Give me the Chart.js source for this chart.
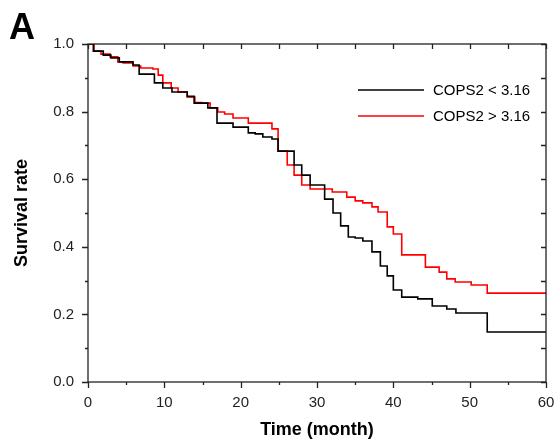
<!DOCTYPE html>
<html>
<head>
<meta charset="utf-8">
<script src="https://cdn.jsdelivr.net/npm/chart.js@4.4.0/dist/chart.umd.min.js"></script>
<style>
html, body { margin: 0; padding: 0; background: #fff; }
#wrap { width: 557px; height: 444px; position: relative; }
</style>
</head>
<body>
<div id="wrap"><canvas id="kmChart"></canvas></div>
<script>
// Kaplan-Meier steps (time in months, survival after the drop)
var timesLow = [0, 0.7, 2.0, 3.0, 4.1, 5.9, 6.7, 8.7, 9.8, 11.0, 13.0, 13.9, 15.7, 16.9, 19.0, 21.0, 21.9, 22.9, 24.1, 24.9, 27.0, 28.0, 29.1, 31.0, 32.1, 33.1, 34.1, 35.0, 36.0, 37.2, 38.3, 39.2, 40.0, 41.1, 43.2, 45.1, 47.0, 48.2, 52.3, 60];
var survivalLow = [1.0, 0.979, 0.967, 0.959, 0.947, 0.938, 0.911, 0.885, 0.870, 0.858, 0.845, 0.825, 0.811, 0.766, 0.754, 0.737, 0.734, 0.725, 0.719, 0.683, 0.642, 0.612, 0.583, 0.541, 0.500, 0.462, 0.429, 0.426, 0.417, 0.385, 0.343, 0.314, 0.272, 0.251, 0.246, 0.225, 0.216, 0.204, 0.148, 0.148];

var timesHigh = [0, 0.8, 1.7, 2.9, 3.9, 4.6, 5.9, 6.9, 8.5, 9.2, 9.8, 10.9, 11.8, 13.0, 14.0, 14.9, 16.0, 17.0, 17.9, 19.0, 21.0, 24.1, 24.9, 26.1, 27.0, 28.0, 29.1, 32.0, 33.9, 35.0, 36.0, 37.2, 38.0, 39.2, 40.0, 41.1, 44.2, 46.0, 47.0, 48.1, 50.2, 52.3, 60];
var survivalHigh = [1.0, 0.979, 0.970, 0.962, 0.947, 0.944, 0.935, 0.929, 0.926, 0.908, 0.885, 0.870, 0.858, 0.843, 0.827, 0.825, 0.811, 0.799, 0.793, 0.781, 0.766, 0.749, 0.683, 0.642, 0.612, 0.583, 0.571, 0.562, 0.547, 0.536, 0.530, 0.518, 0.503, 0.459, 0.438, 0.376, 0.340, 0.325, 0.305, 0.296, 0.287, 0.263, 0.263];

var seriesLabels = ['COPS2 < 3.16', 'COPS2 > 3.16'];
var xTickValues = [0, 5, 10, 15, 20, 25, 30, 35, 40, 45, 50, 55, 60];
var xTickLabels = ['0', '', '10', '', '20', '', '30', '', '40', '', '50', '', '60'];
var yTickValues = [0, 0.1, 0.2, 0.3, 0.4, 0.5, 0.6, 0.7, 0.8, 0.9, 1.0];
var yTickLabels = ['0.0', '', '0.2', '', '0.4', '', '0.6', '', '0.8', '', '1.0'];

var FONT = "Arial, 'Liberation Sans', sans-serif";

function toPoints(xs, ys) {
    return xs.map(function(t, i) { return { x: t, y: ys[i] }; });
}

// frame, tick marks, legend and panel letter
var framePlugin = {
    id: 'frame',
    afterDraw: function(chart) {
        var ctx = chart.ctx;
        var a = chart.chartArea;
        var xs = chart.scales.x;
        var ys = chart.scales.y;
        ctx.save();
        ctx.strokeStyle = '#222';
        ctx.lineWidth = 1.3;
        ctx.strokeRect(a.left, a.top, a.right - a.left, a.bottom - a.top);

        ctx.beginPath();
        xTickValues.forEach(function(v, i) {
            var px = Math.round(xs.getPixelForValue(v)) + 0.5;
            var len = xTickLabels[i] !== '' ? 6 : 3;
            ctx.moveTo(px, a.bottom);
            ctx.lineTo(px, a.bottom + len);
            ctx.moveTo(px, a.top);
            ctx.lineTo(px, a.top + 5);
        });
        yTickValues.forEach(function(v, i) {
            var py = Math.round(ys.getPixelForValue(v)) + 0.5;
            var len = yTickLabels[i] !== '' ? 6 : 3;
            ctx.moveTo(a.left, py);
            ctx.lineTo(a.left - len, py);
            ctx.moveTo(a.right, py);
            ctx.lineTo(a.right - 5, py);
        });
        ctx.stroke();

        // legend
        chart.data.datasets.forEach(function(ds, i) {
            var ly = 90 + i * 26;
            ctx.beginPath();
            ctx.strokeStyle = ds.borderColor;
            ctx.lineWidth = 1.6;
            ctx.moveTo(358, ly);
            ctx.lineTo(424, ly);
            ctx.stroke();
            ctx.fillStyle = '#000';
            ctx.font = '15px ' + FONT;
            ctx.textBaseline = 'middle';
            ctx.textAlign = 'left';
            ctx.fillText(ds.label, 433, ly + 1);
        });

        ctx.fillStyle = '#000';
        ctx.font = 'bold 36px ' + FONT;
        ctx.textBaseline = 'alphabetic';
        ctx.textAlign = 'left';
        ctx.fillText('A', 9, 39);
        ctx.restore();
    }
};

var ctx = document.getElementById('kmChart').getContext('2d');
new Chart(ctx, {
    type: 'line',
    data: {
        datasets: [{
            label: seriesLabels[0],
            data: toPoints(timesLow, survivalLow),
            borderColor: '#000000',
            borderWidth: 1.6,
            pointRadius: 0,
            stepped: 'before',
            fill: false
        }, {
            label: seriesLabels[1],
            data: toPoints(timesHigh, survivalHigh),
            borderColor: '#ff0000',
            borderWidth: 1.6,
            pointRadius: 0,
            stepped: 'before',
            fill: false
        }]
    },
    options: {
        responsive: true,
        maintainAspectRatio: false,
        animation: false,
        layout: { padding: { left: 0, top: 44, right: 11, bottom: 0 } },
        plugins: {
            legend: { display: false },
            tooltip: { enabled: false }
        },
        scales: {
            x: {
                type: 'linear',
                min: 0,
                max: 60,
                afterFit: function(scale) {
                    scale.height = 62;
                    scale.paddingLeft = 0;
                    scale.paddingRight = 0;
                },
                afterBuildTicks: function(scale) {
                    scale.ticks = xTickValues.map(function(v) { return { value: v }; });
                },
                grid: { display: false, drawTicks: false },
                border: { display: false },
                ticks: {
                    padding: 12,
                    autoSkip: false,
                    maxRotation: 0,
                    color: '#222',
                    font: { family: FONT, size: 15 },
                    callback: function(value, index) { return xTickLabels[index]; }
                },
                title: {
                    display: true,
                    text: 'Time (month)',
                    color: '#000',
                    font: { family: FONT, size: 18, weight: 'bold' },
                    padding: { top: 0, bottom: 3 }
                }
            },
            y: {
                min: 0,
                max: 1,
                afterFit: function(scale) {
                    scale.width = 88;
                    scale.paddingTop = 0;
                    scale.paddingBottom = 0;
                },
                afterBuildTicks: function(scale) {
                    scale.ticks = yTickValues.map(function(v) { return { value: v }; });
                },
                grid: { display: false, drawTicks: false },
                border: { display: false },
                ticks: {
                    padding: 14,
                    autoSkip: false,
                    color: '#222',
                    font: { family: FONT, size: 15 },
                    callback: function(value, index) { return yTickLabels[index]; }
                },
                title: {
                    display: true,
                    text: 'Survival rate',
                    color: '#000',
                    font: { family: FONT, size: 18, weight: 'bold' },
                    padding: { top: 11, bottom: 0 }
                }
            }
        }
    },
    plugins: [framePlugin]
});
</script>
</body>
</html>
